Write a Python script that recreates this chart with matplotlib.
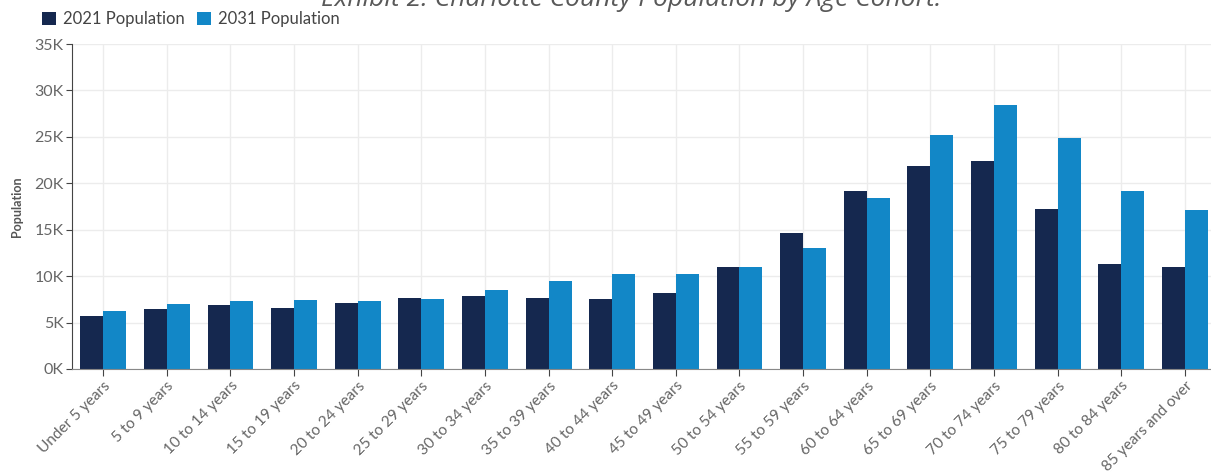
import numpy as np
import matplotlib.pyplot as plt
from matplotlib.ticker import FuncFormatter

# Age cohorts and population counts
age_groups = ['Under 5 years', '5 to 9 years', '10 to 14 years', '15 to 19 years',
              '20 to 24 years', '25 to 29 years', '30 to 34 years', '35 to 39 years',
              '40 to 44 years', '45 to 49 years', '50 to 54 years', '55 to 59 years',
              '60 to 64 years', '65 to 69 years', '70 to 74 years', '75 to 79 years',
              '80 to 84 years', '85 years and over']
pop_2021 = [5700, 6500, 6900, 6600, 7100, 7700, 7900, 7700, 7500, 8200,
            11000, 14700, 19200, 21850, 22450, 17250, 11300, 10950]
pop_2031 = [6200, 7000, 7300, 7400, 7300, 7500, 8500, 9500, 10200, 10200,
            11000, 13050, 18400, 25150, 28400, 24850, 19200, 17100]

dark = '#15284f'
light = '#1287c7'
grey = '#666666'

fig = plt.figure(figsize=(12.11, 4.76), dpi=100)
ax = fig.add_axes([72 / 1211, 1 - 369 / 476, 1 - 72 / 1211, (369 - 44) / 476])

x = np.arange(len(age_groups))
w = 0.36
ax.bar(x - w / 2, pop_2021, width=w, color=dark, label='2021 Population', zorder=2)
ax.bar(x + w / 2, pop_2031, width=w, color=light, label='2031 Population', zorder=2)

ax.set_xlim(-0.49, len(age_groups) - 1 + 0.41)
ax.set_ylim(0, 35000)
ax.set_yticks(np.arange(0, 35001, 5000))
ax.yaxis.set_major_formatter(FuncFormatter(lambda v, p: '%dK' % (v / 1000)))
ax.set_xticks(x)
ax.set_xticklabels(age_groups, rotation=45, ha='right', rotation_mode='anchor')

ax.grid(True, color='#ececec', linewidth=1, zorder=0)
ax.set_axisbelow(True)
for s in ['top', 'right']:
    ax.spines[s].set_visible(False)
ax.spines['left'].set_color('#444444')
ax.spines['bottom'].set_color('#888888')
ax.tick_params(axis='y', length=4, color='#444444', labelcolor=grey, labelsize=11.5, pad=2)
ax.tick_params(axis='x', length=5, color='#444444', labelcolor=grey, labelsize=11.1, pad=2)
for lab in ax.get_xticklabels() + ax.get_yticklabels():
    lab.set_fontfamily('Lato')

ax.set_ylabel('Population', fontsize=9, fontweight='bold', color='#555555',
              fontfamily='Lato')
ax.yaxis.set_label_coords(-0.043, 0.5)

# legend drawn across the top left
leg = fig.legend(loc='upper left', bbox_to_anchor=(0.022, 1.008), ncol=2, frameon=False,
                 prop={'family': 'Lato', 'size': 12}, handlelength=0.85, handleheight=0.85,
                 columnspacing=0.7, handletextpad=0.45, labelcolor='#444444')

# title partly cut off at the top, as in the source image
fig.text(0.5215, 1 - 6 / 476, 'Exhibit 2: Charlotte County Population by Age Cohort.',
         ha='center', va='baseline', fontsize=19, style='italic', color='#595959',
         fontfamily='Open Sans')

plt.savefig('out.png', dpi=100)
